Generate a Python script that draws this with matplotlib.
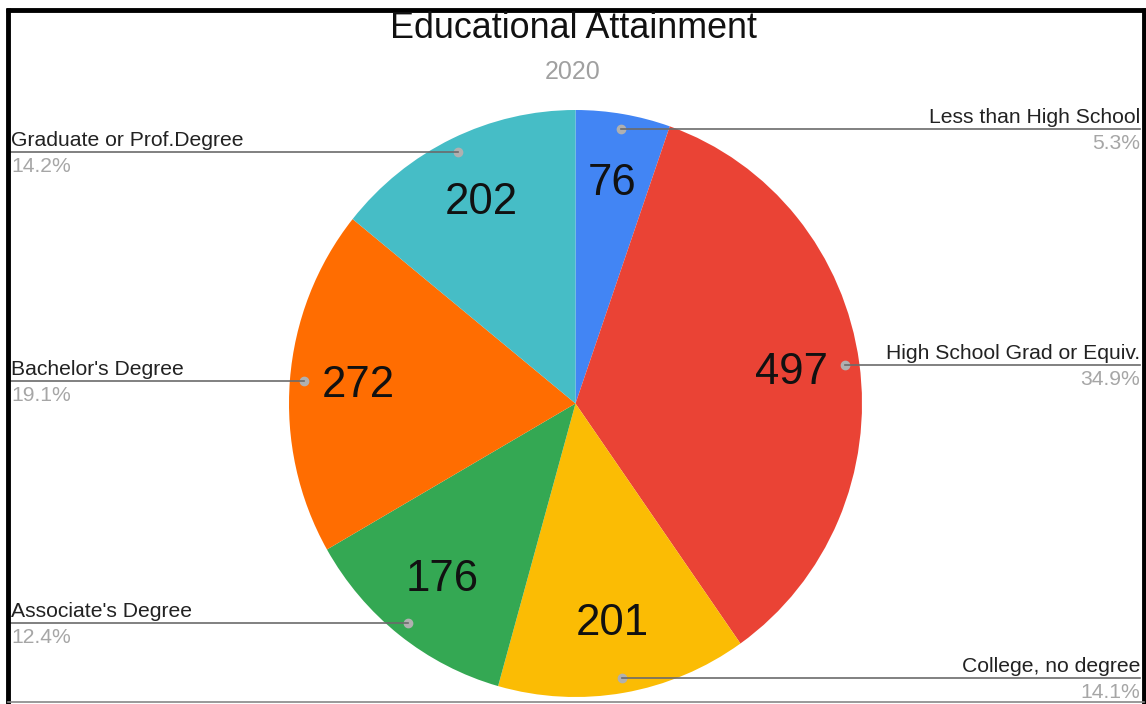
import numpy as np
import matplotlib
matplotlib.use("Agg")
import matplotlib.pyplot as plt
from matplotlib.lines import Line2D
from matplotlib.transforms import blended_transform_factory

plt.rcParams["font.family"] = ["Liberation Sans", "DejaVu Sans"]

categories = ["Less than High School", "High School Grad or Equiv.",
              "College, no degree", "Associate's Degree",
              "Bachelor's Degree", "Graduate or Prof.Degree"]
counts = [76, 497, 201, 176, 272, 202]
colors = ["#4285F4", "#EA4335", "#FBBC04", "#34A853", "#FF6D01", "#46BDC6"]
title = "Educational Attainment"
subtitle = "2020"

W, H = 1146, 704
fig = plt.figure(figsize=(W / 100, H / 100), dpi=100)
fig.patch.set_facecolor("white")


def fx(px):
    return px / W


def fy(py):
    return 1 - py / H


# pie area (slightly taller than wide)
ax = fig.add_axes([fx(289), fy(697), fx(862) - fx(289), fy(110) - fy(697)])
total = sum(counts)
wedges, _, value_texts = ax.pie(
    counts, colors=colors, startangle=90, counterclock=False,
    autopct=lambda p: "{:d}".format(int(round(p * total / 100))),
    pctdistance=0.76, radius=1.0,
    textprops=dict(fontsize=31.5, color="#111111"),
    wedgeprops=dict(linewidth=0))
ax.set_aspect("auto")
ax.set_xlim(-1, 1)
ax.set_ylim(-1, 1)
ax.axis("off")

# leader lines, dots and side labels
cum = np.cumsum([0] + counts[:-1])
for name, val, start in zip(categories, counts, cum):
    mid = (start + val / 2) / total * 2 * np.pi
    dx, dy = 0.95 * np.sin(mid), 0.95 * np.cos(mid)
    right = dx > 0
    edge = fx(1140) if right else fx(11)
    ax.plot([dx], [dy], "o", color="#b0b0b0", markersize=6, zorder=5)
    dot_fig = fig.transFigure.inverted().transform(ax.transData.transform((dx, dy)))
    fig.add_artist(Line2D([dot_fig[0], edge], [dot_fig[1], dot_fig[1]],
                          transform=fig.transFigure, color="#6b6b6b", lw=1.2))
    ha = "right" if right else "left"
    fig.text(edge, dot_fig[1] + 6 / H, name, ha=ha, va="baseline",
             fontsize=15.2, color="#222222")
    fig.text(edge, dot_fig[1] - 20 / H, "{:.1f}%".format(val / total * 100),
             ha=ha, va="baseline", fontsize=15.2, color="#a6a6a6")

fig.text(0.5, fy(38), title, ha="center", va="baseline", fontsize=25.8,
         color="#111111")
fig.text(0.5, fy(79), subtitle, ha="center", va="baseline", fontsize=18,
         color="#a0a0a0")

# outer frame
frame = dict(transform=fig.transFigure, color="black", lw=3.5,
             solid_capstyle="butt")
fig.add_artist(Line2D([fx(8), fx(8)], [fy(8), fy(704)], **frame))
fig.add_artist(Line2D([fx(6), fx(1146)], [fy(10), fy(10)], **frame))
fig.add_artist(Line2D([fx(1144), fx(1144)], [fy(8), fy(704)], **frame))
fig.add_artist(Line2D([fx(8), fx(1144)], [fy(702), fy(702)],
                      transform=fig.transFigure, color="#888888", lw=1.2))

fig.savefig("out.png", dpi=100)
